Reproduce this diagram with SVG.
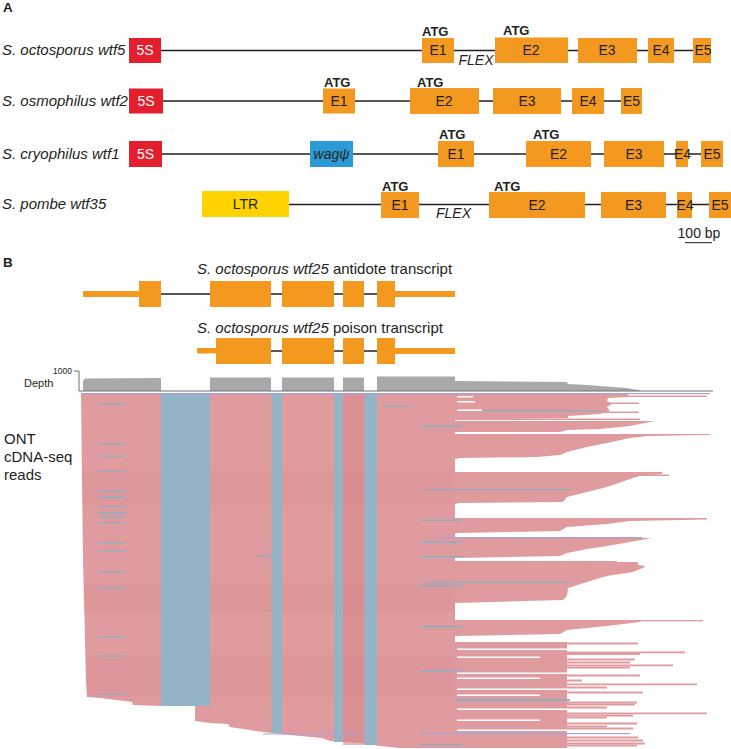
<svg xmlns="http://www.w3.org/2000/svg" width="731" height="749" viewBox="0 0 731 749">
<style>
text{font-family:"Liberation Sans",Arial,sans-serif;fill:#231f20}
.lbl{font-size:15px;font-style:italic}
.hd{font-size:13.5px;font-weight:bold}
.bt{font-size:14px;text-anchor:middle}
.wt{font-size:14px;text-anchor:middle;fill:#fff}
.atg{font-size:13px;font-weight:bold}
.it{font-style:italic}
.ex{fill:#f4991f}
.s5{fill:#e31e2d}
.bb{stroke:#231f20;stroke-width:1.3;fill:none}
.rd{fill:#e09b9f}
.bl{fill:#93b3c6}
.bl2{fill:#8eaec6}
.pl{fill:#a3a3dc}
.wh{fill:#fff}
.gr{fill:#a9a9a9}
</style>
<text class="hd" x="3" y="12">A</text>
<text class="hd" x="3" y="267">B</text>

<g id="connectors">
<line class="bb" x1="161" y1="50.5" x2="693" y2="50.5"/>
<line class="bb" x1="163" y1="101" x2="621" y2="101"/>
<line class="bb" x1="162" y1="154" x2="701" y2="154"/>
<line class="bb" x1="289" y1="204.5" x2="709" y2="204.5"/>
<line class="bb" x1="161" y1="294" x2="377" y2="294"/>
<line class="bb" x1="271" y1="351" x2="377" y2="351"/>
</g>

<g id="row-wtf5">
<text class="lbl" x="2" y="55">S. octosporus wtf5</text>
<g id="wtf5-5S"><rect class="s5" x="129" y="38" width="32" height="25"/><text class="wt" x="145" y="55">5S</text></g>
<g id="wtf5-E1"><rect class="ex" x="422" y="38" width="32" height="25"/><text class="bt" x="438" y="55">E1</text><text class="atg" x="422" y="36">ATG</text></g>
<text class="lbl" x="476" y="65" style="font-size:14px" text-anchor="middle">FLEX</text>
<g id="wtf5-E2"><rect class="ex" x="495" y="37.5" width="73" height="25.5"/><text class="bt" x="531" y="55">E2</text><text class="atg" x="503" y="35">ATG</text></g>
<g id="wtf5-E3"><rect class="ex" x="578" y="38" width="59" height="25"/><text class="bt" x="607" y="55">E3</text></g>
<g id="wtf5-E4"><rect class="ex" x="648" y="38" width="26" height="25"/><text class="bt" x="661" y="55">E4</text></g>
<g id="wtf5-E5"><rect class="ex" x="693" y="38" width="18" height="25"/><text class="bt" x="703" y="55">E5</text></g>
</g>

<g id="row-wtf2">
<text class="lbl" x="2" y="105.5">S. osmophilus wtf2</text>
<g id="wtf2-5S"><rect class="s5" x="129" y="88.5" width="34" height="25"/><text class="wt" x="146" y="106">5S</text></g>
<g id="wtf2-E1"><rect class="ex" x="323" y="88.5" width="32" height="25"/><text class="bt" x="339" y="106">E1</text><text class="atg" x="324" y="87">ATG</text></g>
<g id="wtf2-E2"><rect class="ex" x="410" y="88" width="69" height="26"/><text class="bt" x="444" y="106">E2</text><text class="atg" x="417" y="87">ATG</text></g>
<g id="wtf2-E3"><rect class="ex" x="493" y="88" width="68" height="26"/><text class="bt" x="527" y="106">E3</text></g>
<g id="wtf2-E4"><rect class="ex" x="572" y="88" width="32" height="26"/><text class="bt" x="588" y="106">E4</text></g>
<g id="wtf2-E5"><rect class="ex" x="621" y="88" width="21" height="26"/><text class="bt" x="631.5" y="106">E5</text></g>
</g>

<g id="row-wtf1">
<text class="lbl" x="2" y="158.5">S. cryophilus wtf1</text>
<g id="wtf1-5S"><rect class="s5" x="129" y="141" width="33" height="26"/><text class="wt" x="145.5" y="159">5S</text></g>
<g id="wtf1-wag"><rect x="310" y="141" width="43" height="26" fill="#2b9bd6"/><text class="bt it" x="331.5" y="159">wagψ</text></g>
<g id="wtf1-E1"><rect class="ex" x="438" y="141" width="36" height="26"/><text class="bt" x="456" y="159">E1</text><text class="atg" x="439" y="139">ATG</text></g>
<g id="wtf1-E2"><rect class="ex" x="526" y="141" width="65" height="26"/><text class="bt" x="558.5" y="159">E2</text><text class="atg" x="533" y="139">ATG</text></g>
<g id="wtf1-E3"><rect class="ex" x="604" y="141" width="60" height="26"/><text class="bt" x="634" y="159">E3</text></g>
<g id="wtf1-E4"><rect class="ex" x="676" y="141" width="12" height="26"/><text class="bt" x="682.5" y="159">E4</text></g>
<g id="wtf1-E5"><rect class="ex" x="701" y="141" width="22" height="26"/><text class="bt" x="712" y="159">E5</text></g>
</g>

<g id="row-wtf35">
<text class="lbl" x="2" y="208.5">S. pombe wtf35</text>
<g id="wtf35-LTR"><rect x="202" y="191" width="87" height="26" fill="#ffd200"/><text class="bt" x="245.5" y="209">LTR</text></g>
<g id="wtf35-E1"><rect class="ex" x="381" y="192" width="38" height="26"/><text class="bt" x="400" y="210">E1</text><text class="atg" x="382" y="191">ATG</text></g>
<text class="lbl" x="453.5" y="218" style="font-size:14px" text-anchor="middle">FLEX</text>
<g id="wtf35-E2"><rect class="ex" x="489" y="192" width="96" height="26"/><text class="bt" x="537" y="210">E2</text><text class="atg" x="494" y="191">ATG</text></g>
<g id="wtf35-E3"><rect class="ex" x="601" y="192" width="65" height="26"/><text class="bt" x="633.5" y="210">E3</text></g>
<g id="wtf35-E4"><rect class="ex" x="677" y="192" width="15" height="26"/><text class="bt" x="685" y="210">E4</text></g>
<g id="wtf35-E5"><rect class="ex" x="709" y="192" width="22" height="26"/><text class="bt" x="720" y="210">E5</text></g>
</g>

<g id="scalebar">
<text class="bt" x="699" y="238">100 bp</text>
<line x1="685" y1="242.7" x2="712" y2="242.7" stroke="#231f20" stroke-width="1"/>
</g>

<g id="antidote">
<text x="197" y="274" style="font-size:15px"><tspan class="it">S. octosporus wtf25</tspan> antidote transcript</text>
<rect class="ex" x="83" y="291" width="56" height="6"/>
<rect class="ex" x="139" y="281" width="22" height="26"/>
<rect class="ex" x="210" y="281" width="61" height="26"/>
<rect class="ex" x="282" y="281" width="52" height="26"/>
<rect class="ex" x="343" y="281" width="21" height="26"/>
<rect class="ex" x="377" y="281" width="18" height="26"/>
<rect class="ex" x="395" y="291" width="60" height="6"/>
</g>
<g id="poison">
<text x="197" y="333" style="font-size:15px"><tspan class="it">S. octosporus wtf25</tspan> poison transcript</text>
<rect class="ex" x="197" y="348" width="19" height="5.5"/>
<rect class="ex" x="216" y="338" width="55" height="26"/>
<rect class="ex" x="282" y="338" width="52" height="26"/>
<rect class="ex" x="343" y="338" width="21" height="26"/>
<rect class="ex" x="377" y="338" width="18" height="26"/>
<rect class="ex" x="395" y="348" width="60" height="6"/>
</g>

<g id="depth">
<text x="72" y="374" style="font-size:8.5px" text-anchor="end">1000</text>
<text x="24" y="387" style="font-size:11px">Depth</text>
<path class="gr" d="M83,391 V381 L85,378.5 L161,378 V391 Z M210,391 V377.5 H271 V391 Z M282,391 V377.5 H334 V391 Z M343,391 V377.5 H364 V391 Z M377,391 V376.5 H455 V381 L567,382 L568,384 L587,385 L600,386 L627,388 L640,390.5 V391 Z"/>
<path d="M74,371 H79 V391 H713" stroke="#6f6f6f" stroke-width="1" fill="none"/>
</g>

<g id="reads">
<text x="4" y="443.5" style="font-size:15px">ONT</text>
<text x="4" y="461.5" style="font-size:15px">cDNA-seq</text>
<text x="4" y="479.5" style="font-size:15px">reads</text>
<path class="rd" d="M81,393 H455 V748 L400,748 L380,746 L360,743 L330,741 L322,738 L290,735 L263,732 L230,727 L228,724 L210,723 L195,721 L195,706 L161,706 L133,705 L132,702 L100,698 L87,697 L86,680 L85,640 L83,560 L82,480 Z"/>
<g fill="#b04050" opacity="0.04">
<rect x="82" y="471" width="373" height="34"/>
<rect x="83" y="583" width="372" height="29"/>
<rect x="85" y="655" width="370" height="42"/>
</g>
<rect x="343" y="393" width="21.5" height="352" fill="#d5878c" opacity="0.6"/>
<!-- right lobes -->
<path class="rd" d="M455,393 L628,393 L628,397 L608,398 L607,401 L612,404 L607,407 L610,411 L600,414 L568,416 L568,418 L455,420 Z"/>
<path class="rd" d="M455,421 L655,421 L645,423 L630,426 L600,429 L567,430 L560,432 L455,432 Z"/>
<path class="rd" d="M455,434 L710,434 L710,435 L647,436 L630,438 L607,443 L587,447 L567,452 L560,455 L537,457 L460,458 L455,459 Z"/>
<path class="rd" d="M455,472 L662,472 L662,474 L640,476 L633,478 L607,487 L587,492 L567,497 L563,502 L460,503 L455,504 Z"/>
<path class="rd" d="M455,518 L707,518 L707,519.5 L630,521 L607,524 L567,527 L560,531 L458,533 L455,533.5 Z"/>
<path class="rd" d="M455,537 L652,538 L630,542 L607,546 L587,549 L567,553 L560,556 L458,558 L455,558 Z"/>
<path class="rd" d="M455,561 L617,561 L617,562 L638,562 L638,565 L645,566 L645,567 L633,572 L607,576 L590,581 L568,588 L567,596 L563,600 L458,603 L455,603 Z"/>
<path class="rd" d="M455,620 L643,620 L640,622 L607,626 L567,630 L560,634 L458,636 L455,636 Z"/>
<rect class="rd" x="455" y="642" width="112" height="106"/>
<g class="rd">
<rect x="455" y="395.5" width="252" height="1.5"/>
<rect x="455" y="402.5" width="184" height="1.5"/>
<rect x="455" y="411.5" width="184" height="1.5"/>
<rect x="455" y="418.5" width="185" height="1.5"/>
<rect x="455" y="474.5" width="214" height="1.5"/>
<rect x="455" y="620" width="248" height="1.3"/>
<rect x="455" y="642.5" width="183" height="2"/>
<rect x="455" y="651.5" width="230" height="1.8"/>
<rect x="455" y="653" width="185" height="2"/>
<rect x="455" y="658.5" width="180" height="2"/>
<rect x="455" y="661.5" width="175" height="2"/>
<rect x="455" y="664.5" width="218" height="1.8"/>
<rect x="455" y="666.5" width="175" height="2"/>
<rect x="455" y="674.5" width="185" height="2"/>
<rect x="455" y="679.5" width="127" height="2"/>
<rect x="455" y="683.5" width="242" height="1.8"/>
<rect x="455" y="686.5" width="152" height="2"/>
<rect x="455" y="691.5" width="188" height="2"/>
<rect x="455" y="701.5" width="182" height="2"/>
<rect x="455" y="703.5" width="180" height="2"/>
<rect x="455" y="706.5" width="152" height="2"/>
<rect x="455" y="712.5" width="252" height="1.8"/>
<rect x="455" y="714.5" width="178" height="2"/>
<rect x="455" y="716.5" width="152" height="2"/>
<rect x="455" y="722.5" width="182" height="2"/>
<rect x="455" y="725.5" width="152" height="2"/>
<rect x="455" y="727.5" width="178" height="2"/>
<rect x="455" y="736.5" width="183" height="2"/>
<rect x="455" y="739.5" width="188" height="2"/>
<rect x="455" y="742.5" width="190" height="2"/>
<rect x="455" y="744.5" width="182" height="2"/>
</g>
<g class="wh">
<rect x="457" y="396" width="16" height="1.5"/>
<rect x="457" y="401" width="18" height="1.5"/>
<rect x="457" y="409.5" width="25" height="1.5"/>
<rect x="457" y="648.5" width="110" height="1.5"/>
<rect x="457" y="656.5" width="83" height="1.5"/>
<rect x="457" y="672.5" width="110" height="1.5"/>
<rect x="457" y="677.5" width="83" height="1.5"/>
<rect x="457" y="688.5" width="110" height="1.5"/>
<rect x="457" y="694.5" width="83" height="1.5"/>
<rect x="457" y="708.5" width="110" height="1.5"/>
<rect x="457" y="719.5" width="83" height="1.5"/>
<rect x="457" y="729.5" width="110" height="1.5"/>
</g>
<!-- introns -->
<rect class="bl" x="161" y="393" width="49" height="313"/>
<rect class="bl" x="271.5" y="393" width="10.5" height="340"/>
<rect class="bl" x="334" y="393" width="8.5" height="349"/>
<rect class="bl" x="364.5" y="393" width="12.5" height="352"/>
<!-- stray read segments -->
<g class="bl2">
<rect x="98" y="403.5" width="27" height="1.2"/><rect x="98" y="443.5" width="27" height="1.2"/>
<rect x="98" y="455.5" width="27" height="1.2"/><rect x="98" y="470" width="27" height="1.2"/>
<rect x="98" y="490" width="27" height="1.5"/><rect x="98" y="496.5" width="27" height="1.5"/>
<rect x="98" y="506" width="27" height="1.2"/><rect x="98" y="512" width="27" height="1.5"/>
<rect x="98" y="516" width="27" height="1.2"/><rect x="98" y="522" width="27" height="1.2"/>
<rect x="98" y="542" width="27" height="1.2"/><rect x="98" y="550" width="27" height="1.2"/>
<rect x="98" y="571.5" width="27" height="1.2"/><rect x="98" y="587.5" width="27" height="1.2"/>
<rect x="98" y="636.5" width="27" height="1.2"/><rect x="98" y="655.5" width="27" height="1.2"/>
<rect x="98" y="693.5" width="27" height="1.2"/><rect x="256" y="555.5" width="16" height="1.2"/>
<rect x="382" y="405.5" width="30" height="1.2"/><rect x="420" y="425.5" width="42" height="1.5"/>
<rect x="425" y="489" width="145" height="1.2"/><rect x="420" y="519.5" width="42" height="1.5"/>
<rect x="420" y="541.5" width="42" height="1.5"/><rect x="420" y="556" width="42" height="1.5"/>
<rect x="425" y="581.5" width="145" height="1.2"/><rect x="420" y="585" width="42" height="1.5"/>
<rect x="420" y="626" width="42" height="1.5"/><rect x="420" y="670" width="42" height="1.5"/>
<rect x="455" y="699" width="115" height="2"/><rect x="420" y="744" width="42" height="1.2"/>
<rect x="482" y="410" width="121" height="1.2"/>
</g>
<g class="pl">
<rect x="81" y="393" width="629" height="1.2"/>
<rect x="440" y="537" width="202" height="1.2"/>
<rect x="420" y="733" width="210" height="1.2"/>
<rect x="263" y="733.5" width="100" height="1"/>
</g>
</g>
</svg>
